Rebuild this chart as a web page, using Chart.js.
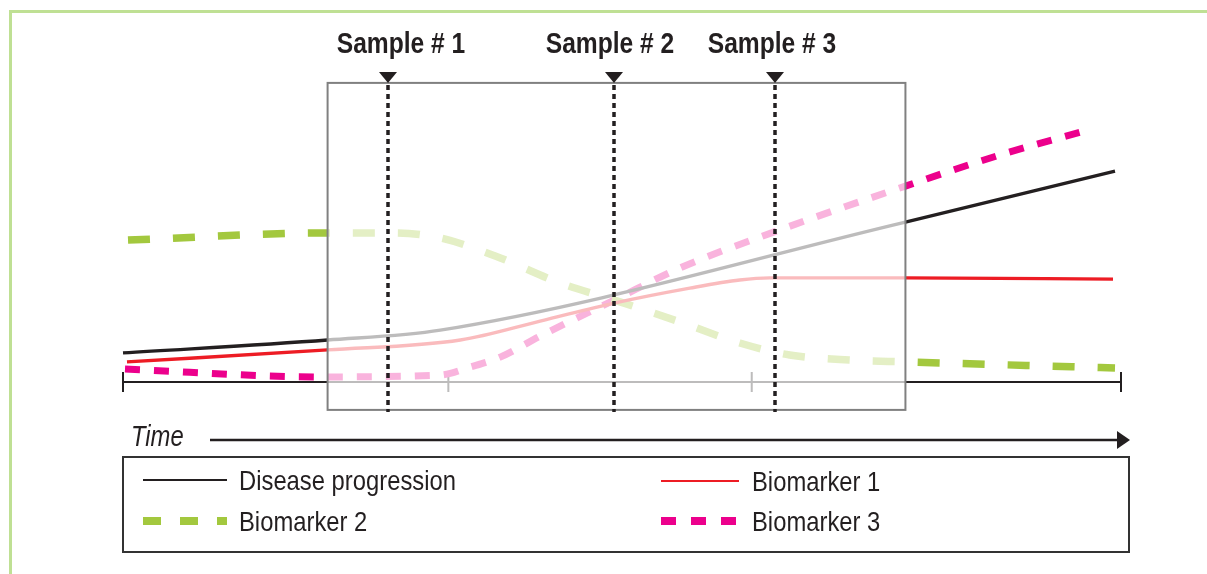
<!DOCTYPE html>
<html>
<head>
<meta charset="utf-8">
<script src="https://cdn.jsdelivr.net/npm/chart.js@4"></script>
<style>
  html, body { margin: 0; padding: 0; background: #fff; }
  canvas { display: block; }
</style>
</head>
<body>
<canvas id="chart" width="1207" height="574"></canvas>
<script>
// Series (time on 0..100, level on 0..100)
const seriesNames = ["Disease progression", "Biomarker 1", "Biomarker 2", "Biomarker 3"];

const diseaseT = [0, 20.5, 31.8, 78.4, 99.4];
const diseaseV = [9.7, 14, 17.3, 53.3, 70.3];

const bio1T = [0.4, 20.5, 33.8, 41.8, 49.2, 56.8, 61.8, 64.8, 78.4, 99.2];
const bio1V = [6.7, 10.7, 14, 20.3, 26.3, 31.3, 34, 34.7, 34.7, 34.3];

const bio2T = [0.5, 20.7, 27.3, 31.8, 37.3, 43.8, 49.8, 55.8, 61.8, 66.8, 72.8, 78.4, 99.4];
const bio2V = [47.3, 49.7, 49.7, 48, 42, 33, 26.7, 20, 13, 9, 7.3, 6.7, 4.7];

const bio3T = [0.2, 19.7, 31.8, 34.8, 37.8, 41.8, 49.2, 55.8, 65.8, 78.4, 87.9, 96.4];
const bio3V = [4.3, 1.7, 2.3, 5, 8.3, 15.3, 27.3, 38, 50.7, 65.3, 75.7, 83.7];

// Sampling window and sample times
const windowT = [20.5, 78.4];
const windowV = [-9.3, 99.7];
const sampleT = [26.55, 49.2, 65.3];
const sampleLabels = ["Sample # 1", "Sample # 2", "Sample # 3"];
const axisTicks = [0, 32.6, 63.0, 100];

const colors = ["#231f20", "#ed1c24", "#a3c83e", "#ec008c"];
const dashes = [[], [], [22, 23], [15, 14]];
const widths = [3.3, 3.4, 7.5, 7];
const INK = "#231f20";
const FONT = '"Liberation Sans", Arial, sans-serif';

function pts(t, v) {
  return t.map((x, i) => ({ x: x, y: v[i] }));
}

const seriesData = [pts(diseaseT, diseaseV), pts(bio1T, bio1V), pts(bio2T, bio2V), pts(bio3T, bio3V)];

// condensed text: squeeze normal font horizontally
function narrowText(ctx, text, x, y, font, align, sx) {
  ctx.save();
  ctx.font = font;
  ctx.textAlign = align || "left";
  ctx.translate(x, y);
  ctx.scale(sx || 0.82, 1);
  ctx.fillText(text, 0, 0);
  ctx.restore();
}

// timeline axis under the datasets
const axisPlugin = {
  id: "axisPlugin",
  beforeDatasetsDraw(chart) {
    const ctx = chart.ctx;
    const xs = chart.scales.x;
    const ys = chart.scales.y;
    const y0 = ys.getPixelForValue(0);
    const x0 = xs.getPixelForValue(axisTicks[0]);
    const x1 = xs.getPixelForValue(axisTicks[axisTicks.length - 1]);
    ctx.save();
    ctx.strokeStyle = INK;
    ctx.lineWidth = 2;
    ctx.beginPath();
    ctx.moveTo(x0, y0);
    ctx.lineTo(x1, y0);
    axisTicks.forEach((t) => {
      const px = xs.getPixelForValue(t);
      ctx.moveTo(px, y0 - 10);
      ctx.lineTo(px, y0 + 10);
    });
    ctx.stroke();
    ctx.restore();
  },
};

// window overlay, sample markers, time arrow, legend, frame
const overlayPlugin = {
  id: "overlayPlugin",
  afterDatasetsDraw(chart) {
    const ctx = chart.ctx;
    const xs = chart.scales.x;
    const ys = chart.scales.y;
    const bx0 = xs.getPixelForValue(windowT[0]);
    const bx1 = xs.getPixelForValue(windowT[1]);
    const by0 = ys.getPixelForValue(windowV[1]);
    const by1 = ys.getPixelForValue(windowV[0]);
    ctx.save();

    // faded window
    ctx.fillStyle = "rgba(255,255,255,0.7)";
    ctx.fillRect(bx0, by0, bx1 - bx0, by1 - by0);
    ctx.strokeStyle = "#808080";
    ctx.lineWidth = 2;
    ctx.strokeRect(bx0, by0, bx1 - bx0, by1 - by0);

    // sample lines
    const labelShift = [13, -4, -3];
    sampleT.forEach((t, i) => {
      const px = Math.round(xs.getPixelForValue(t));
      ctx.strokeStyle = INK;
      ctx.lineWidth = 3.5;
      ctx.setLineDash([5, 4]);
      ctx.beginPath();
      ctx.moveTo(px, by0 + 2);
      ctx.lineTo(px, by1 + 2);
      ctx.stroke();
      ctx.setLineDash([]);
      ctx.fillStyle = INK;
      ctx.beginPath();
      ctx.moveTo(px - 9, by0 - 11);
      ctx.lineTo(px + 9, by0 - 11);
      ctx.lineTo(px, by0);
      ctx.closePath();
      ctx.fill();
      narrowText(ctx, sampleLabels[i], px + labelShift[i], 53, "bold 30px " + FONT, "center");
    });

    // time arrow
    ctx.fillStyle = INK;
    narrowText(ctx, "Time", 131, 446, "italic 29px " + FONT, "left");
    ctx.strokeStyle = INK;
    ctx.lineWidth = 2.5;
    ctx.beginPath();
    ctx.moveTo(210, 440);
    ctx.lineTo(1119, 440);
    ctx.stroke();
    ctx.beginPath();
    ctx.moveTo(1117, 431);
    ctx.lineTo(1130, 440);
    ctx.lineTo(1117, 449);
    ctx.closePath();
    ctx.fill();

    // legend
    ctx.strokeStyle = "#333";
    ctx.lineWidth = 2;
    ctx.strokeRect(123, 457, 1006, 95);
    const legendX = [143, 661, 143, 661];
    const legendY = [480, 481, 521, 521];
    const legendLen = [84, 78, 84, 78];
    const legendDash = [[], [], [18, 19], [15, 15]];
    const legendW = [2, 2, 8, 8];
    const textX = [239, 752, 239, 752];
    seriesNames.forEach((name, i) => {
      ctx.strokeStyle = colors[i];
      ctx.lineWidth = legendW[i];
      ctx.setLineDash(legendDash[i]);
      ctx.beginPath();
      ctx.moveTo(legendX[i], legendY[i]);
      ctx.lineTo(legendX[i] + legendLen[i], legendY[i]);
      ctx.stroke();
      ctx.setLineDash([]);
      ctx.fillStyle = INK;
      narrowText(ctx, name, textX[i], legendY[i] + 10, "28px " + FONT, "left", 0.85);
    });

    // outer frame
    ctx.strokeStyle = "#bfe094";
    ctx.lineWidth = 3;
    ctx.beginPath();
    ctx.moveTo(1207, 11.5);
    ctx.lineTo(10.5, 11.5);
    ctx.lineTo(10.5, 574);
    ctx.stroke();
    ctx.restore();
  },
};

function initChart() {
  const ctx = document.getElementById("chart").getContext("2d");
  new Chart(ctx, {
    type: "line",
    data: {
      datasets: seriesNames.map((name, i) => ({
        label: name,
        data: seriesData[i],
        borderColor: colors[i],
        borderWidth: widths[i],
        borderDash: dashes[i],
        borderCapStyle: "butt",
        pointRadius: 0,
        fill: false,
        cubicInterpolationMode: "monotone",
        clip: false,
      })),
    },
    options: {
      responsive: false,
      animation: false,
      devicePixelRatio: 1,
      layout: {
        padding: { left: 123, right: 86, top: 82, bottom: 192 },
      },
      plugins: {
        legend: { display: false },
        tooltip: { enabled: false },
      },
      scales: {
        x: { type: "linear", min: 0, max: 100, display: false },
        y: { type: "linear", min: 0, max: 100, display: false },
      },
    },
    plugins: [axisPlugin, overlayPlugin],
  });
}

initChart();
</script>
</body>
</html>
